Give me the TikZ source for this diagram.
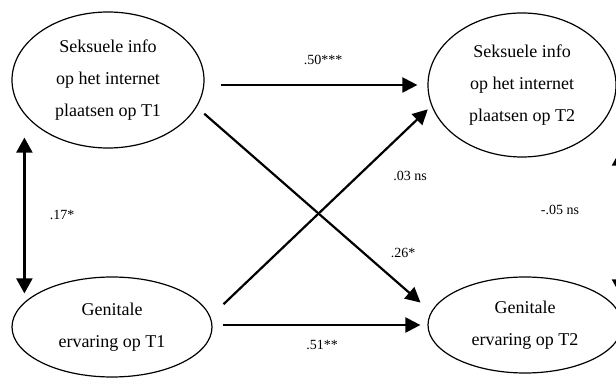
\documentclass[tikz,border=0pt]{standalone}
\usepackage{fontspec}
\setmainfont{Liberation Serif}
\usetikzlibrary{shapes.geometric,arrows.meta}

\begin{document}
\begin{tikzpicture}[x=1pt,y=-1pt]
\tikzset{
    varStyle/.style={ellipse, draw=black, line width=1.2pt, inner sep=0pt, align=center, font=\fontsize{18}{32}\selectfont},
    pathArrow/.style={-{Triangle[length=15pt,width=15pt]}, line width=2.2pt},
    corrArrow/.style={{Triangle[length=15pt,width=16pt]}-{Triangle[length=15pt,width=16pt]}, line width=2.2pt},
    coefStyle/.style={font=\fontsize{14}{16}\selectfont, inner sep=0pt}
}

\clip (0,0) rectangle (616,379);

\node[varStyle, minimum width=192pt, minimum height=136pt] (infoA) at (108,80) {Seksuele info\\op het internet\\plaatsen op T1};
\node[varStyle, minimum width=200pt, minimum height=100pt] (genA) at (112,327) {Genitale\\ervaring op T1};

\node[varStyle, minimum width=188pt, minimum height=144pt] (infoB) at (522,85) {Seksuele info\\op het internet\\plaatsen op T2};
\node[varStyle, minimum width=194pt, minimum height=96pt] (genB) at (525,325) {Genitale\\ervaring op T2};


\draw[pathArrow, shorten <=16pt, shorten >=10pt] (infoA.east |- infoB.west) -- (infoB.west);
\draw[pathArrow, shorten <=10pt, shorten >=7pt] (genA.east |- genB.west) -- (genB.west);

\draw[pathArrow, shorten <=10pt, shorten >=14pt] (infoA.-17) -- (genB.172);
\draw[pathArrow, shorten <=18pt, shorten >=5pt] (genA.6) -- (infoB.-167);

\draw[corrArrow] ([xshift=13pt,yshift=11pt]infoA.west |- infoA.south) -- ([xshift=13pt,yshift=-17pt]genA.west |- genA.north);
\draw[corrArrow] ([xshift=98pt,yshift=7pt]infoB.south) -- ([xshift=95pt,yshift=-18pt]genB.north);


\node[coefStyle] (coefInfo) at (323,60) {.50***};
\node[coefStyle] (coefGen) at (322,345) {.51**};
\node[coefStyle] (coefGenInfo) at (410,176) {.03 ns};
\node[coefStyle] (coefInfoGen) at (403,253) {.26*};
\node[coefStyle] (corrT1) at (62,215) {.17*};
\node[coefStyle] (corrT2) at (560,210) {-.05 ns};

\end{tikzpicture}
\end{document}
